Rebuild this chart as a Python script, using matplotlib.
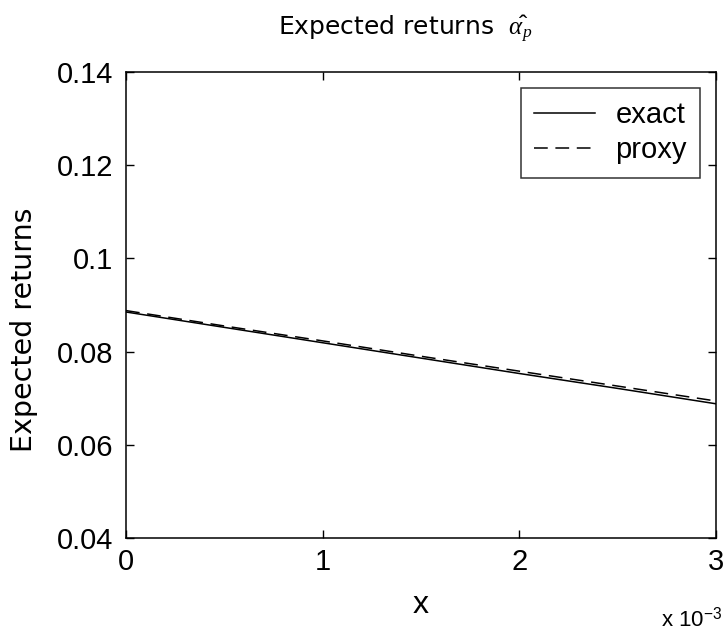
import matplotlib
matplotlib.use("Agg")
import matplotlib.pyplot as plt
import numpy as np

plt.rcParams['font.family'] = ['Liberation Sans', 'DejaVu Sans']
plt.rcParams['mathtext.fontset'] = 'custom'
plt.rcParams['mathtext.it'] = 'Liberation Serif:italic'
plt.rcParams['mathtext.rm'] = 'Liberation Sans'

x_vals = [0.0, 0.0005, 0.001, 0.0015, 0.002, 0.0025, 0.003]
exact = [0.0885, 0.0852, 0.0819, 0.0786, 0.0753, 0.0721, 0.0688]
proxy = [0.0888, 0.0855, 0.0823, 0.0790, 0.0758, 0.0726, 0.0694]

x_ticks = [0, 0.001, 0.002, 0.003]
x_ticklabels = ['0', '1', '2', '3']
y_ticks = [0.04, 0.06, 0.08, 0.1, 0.12, 0.14]
y_ticklabels = ['0.04', '0.06', '0.08', '0.1', '0.12', '0.14']

fig = plt.figure(figsize=(7.26, 6.36), dpi=100)
ax = fig.add_axes([126/726, 1-538/636, (716-126)/726, (538-72)/636])
ax.plot(x_vals, exact, color='black', linestyle='-', linewidth=1.1, label='exact')
ax.plot(x_vals, proxy, color='black', linestyle=(0, (9, 5)), linewidth=1.1, label='proxy')
ax.set_xlim(0, 0.003)
ax.set_ylim(0.04, 0.14)
ax.set_xticks(x_ticks)
ax.set_xticklabels(x_ticklabels)
ax.set_yticks(y_ticks)
ax.set_yticklabels(y_ticklabels)
ax.tick_params(direction='in', top=True, right=True, labelsize=21, length=6, width=1.0)
ax.tick_params(axis='y', pad=9)
ax.tick_params(axis='x', pad=7)
for s in ax.spines.values():
    s.set_linewidth(1.1)
ax.set_xlabel('x', fontsize=23, labelpad=10)
fig.text(24/726, 1-330/636, 'Expected returns', fontsize=20.5, rotation=90,
         ha='center', va='center', family=['DejaVu Sans'])
fig.text(405/726, 1-29/636, r'Expected returns  $\hat{\alpha_p}$', fontsize=18,
         ha='center', va='center', family=['DejaVu Sans'])
fig.text(722/726, 1-619/636, r'x 10$^{-3}$', fontsize=16, ha='right', va='center')
leg = ax.legend(loc='upper right', fontsize=21, frameon=True, fancybox=False,
                edgecolor='black', handlelength=2.1, borderpad=0.45,
                labelspacing=0.25, handletextpad=0.7, borderaxespad=0.55)
leg.get_frame().set_linewidth(1.1)
fig.savefig('out.png', dpi=100, facecolor='white')
